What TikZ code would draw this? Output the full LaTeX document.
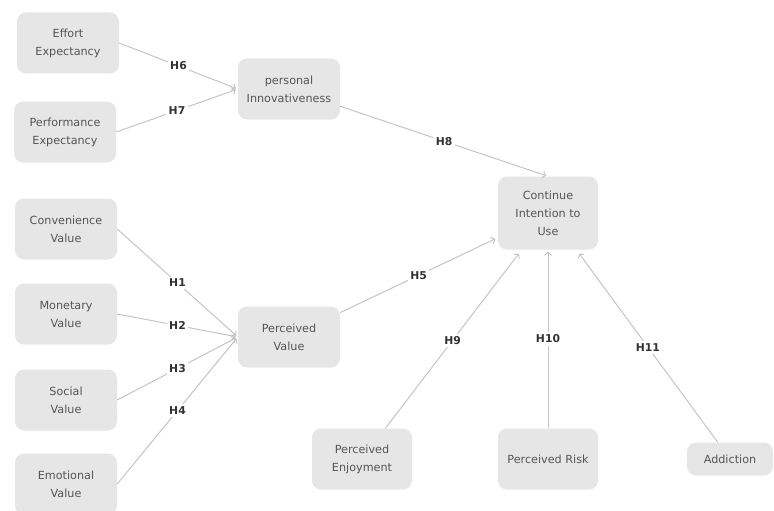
\documentclass[tikz,border=0pt]{standalone}
\usepackage{fontspec}
\setmainfont{DejaVu Sans}
\usetikzlibrary{arrows.meta}
\definecolor{boxgray}{HTML}{E6E6E6}
\definecolor{textgray}{HTML}{555555}
\definecolor{labelgray}{HTML}{333333}
\definecolor{linegray}{HTML}{C4C4C4}
\begin{document}
\begin{tikzpicture}[x=1pt, y=-1pt,
  construct/.style={shape=rectangle, rounded corners=9pt, fill=boxgray, draw=none, text=textgray, align=center, font=\fontsize{11.2}{18}\selectfont, minimum width=102pt, minimum height=61pt, inner sep=0pt},
  hyp/.style={shape=rectangle, fill=white, draw=none, text=labelgray, font=\bfseries\fontsize{10.8}{12}\selectfont, inner sep=2.5pt},
  link/.style={draw=linegray, line width=1pt, -{Straight Barb[length=3pt,width=7pt]}, shorten >=2pt}]
%%%%%%%%%%%%%%%%%%%%%%%%%%%%%%%%%%%%%%%%%%% HELP LINES
%\draw[help lines] (0,0) grid +(774,511);
\useasboundingbox (0,0) rectangle (774,511);

%%%%%%%%%%%%%%%%%%%%%%%%%%%%%%%%%%%%%%%%%%% constructs
\node[construct](effexp) at (68,43){Effort\\Expectancy};
\node[construct](perfexp) at (65,132){Performance\\Expectancy};
\node[construct](persinn) at (289,89){personal\\Innovativeness};
\node[construct](convval) at (66,229){Convenience\\Value};
\node[construct](monval) at (66,314){Monetary\\Value};
\node[construct](socval) at (66,400){Social\\Value};
\node[construct](emoval) at (66,484){Emotional\\Value};
\node[construct](percval) at (289,337){Perceived\\Value};
\node[construct, minimum width=100pt, minimum height=73pt](contint) at (548,213){Continue\\Intention to\\Use};
\node[construct, minimum width=100pt](percenj) at (362,459){Perceived\\Enjoyment};
\node[construct, minimum width=100pt](percrisk) at (548,459){Perceived Risk};
\node[construct, minimum width=86pt, minimum height=33pt](addict) at (730,459){Addiction};

%%%%% arrow ends at the outcome
\coordinate (tipH5) at (497,238);
\coordinate (tipH9) at (520,252);
\coordinate (tipH11) at (578,252);

%%%%% edges
\draw[link] (effexp.east) -- node[hyp]{H6} (persinn.west);
\draw[link] (perfexp.east) -- node[hyp]{H7} (persinn.west);
\draw[link] (convval.east) -- node[hyp]{H1} (percval.west);
\draw[link] (monval.east) -- node[hyp]{H2} (percval.west);
\draw[link] (socval.east) -- node[hyp]{H3} (percval.west);
\draw[link] (emoval.east) -- node[hyp]{H4} (percval.west);
\draw[link] (persinn) -- node[hyp]{H8} (contint.north);
\draw[link] (percval) -- node[hyp]{H5} (tipH5);
\draw[link] (percenj) -- node[hyp]{H9} (tipH9);
\draw[link] (percrisk) -- node[hyp]{H10} (contint);
\draw[link] (addict) -- node[hyp]{H11} (tipH11);
\end{tikzpicture}
\end{document}
